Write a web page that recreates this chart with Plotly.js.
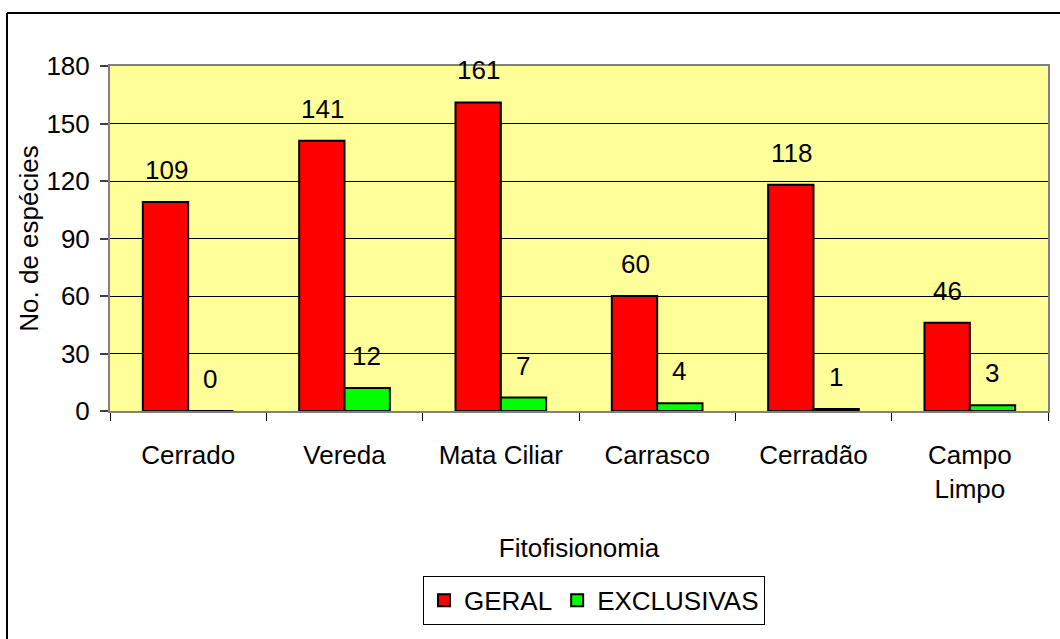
<!DOCTYPE html>
<html>
<head>
<meta charset="utf-8">
<script src="https://cdn.plot.ly/plotly-3.0.1.min.js"></script>
<style>
  html, body { margin: 0; padding: 0; background: #ffffff; }
  #chart { width: 1060px; height: 639px; }
</style>
</head>
<body>
<div id="chart"></div>
<script>
const categories = ["Cerrado", "Vereda", "Mata Ciliar", "Carrasco", "Cerradão", "Campo<br>Limpo"];
const geral = [109, 141, 161, 60, 118, 46];
const exclusivas = [0, 12, 7, 4, 1, 3];
const yTicks = [0, 30, 60, 90, 120, 150, 180];

const FONT = "Liberation Sans, Arial, sans-serif";
const FS = 26;

const traces = [
  {
    type: "bar", name: "GERAL", x: categories, y: geral,
    marker: { color: "#FF0000", line: { color: "#000000", width: 2 } },
    hoverinfo: "skip"
  },
  {
    type: "bar", name: "EXCLUSIVAS", x: categories, y: exclusivas,
    marker: { color: "#00FF00", line: { color: "#000000", width: 2 } },
    hoverinfo: "skip"
  }
];

const annotations = [];
categories.forEach((c, i) => {
  annotations.push({ x: c, y: geral[i], xref: "x", yref: "y", text: String(geral[i]),
    showarrow: false, xshift: -22, yshift: 32, yanchor: "middle",
    font: { family: FONT, size: FS, color: "#000" } });
  annotations.push({ x: c, y: exclusivas[i], xref: "x", yref: "y", text: String(exclusivas[i]),
    showarrow: false, xshift: 22, yshift: 32, yanchor: "middle",
    font: { family: FONT, size: FS, color: "#000" } });
});

const layout = {
  width: 1060, height: 639,
  margin: { l: 110, r: 12, t: 66, b: 228 },
  paper_bgcolor: "#ffffff",
  plot_bgcolor: "#FFFF99",
  font: { family: FONT, size: FS, color: "#000" },
  barmode: "group",
  bargap: 0.42,
  bargroupgap: 0,
  showlegend: true,
  legend: {
    orientation: "h", x: 0.516, xanchor: "center", y: -0.478, yanchor: "top",
    bordercolor: "#000000", borderwidth: 1, bgcolor: "#ffffff",
    itemwidth: 30,
    font: { family: FONT, size: FS, color: "#000" }
  },
  xaxis: {
    type: "category",
    tickson: "boundaries",
    ticks: "outside", ticklen: 8, tickcolor: "#000", tickwidth: 1,
    ticklabelstandoff: 20,
    showline: true, linecolor: "#808080", linewidth: 2, mirror: true,
    showgrid: false, zeroline: false,
    tickfont: { family: FONT, size: FS, color: "#000" },
    title: { text: "Fitofisionomia", font: { family: FONT, size: FS, color: "#000" }, standoff: 36 },
    automargin: false
  },
  yaxis: {
    range: [0, 180],
    tickvals: yTicks, ticktext: yTicks.map(String),
    ticks: "outside", ticklen: 8, tickcolor: "#404040", tickwidth: 2,
    ticklabelstandoff: 5,
    showline: true, linecolor: "#808080", linewidth: 2, mirror: true,
    showgrid: true, gridcolor: "#000000", gridwidth: 1,
    zeroline: false,
    tickfont: { family: FONT, size: FS, color: "#000" },
    title: { text: "No. de espécies", font: { family: FONT, size: FS, color: "#000" }, standoff: 0 },
    automargin: false
  },
  annotations: annotations,
  shapes: [
    { type: "line", xref: "paper", yref: "paper", x0: -0.1098, x1: 1.2, y0: 1.1536, y1: 1.1536,
      line: { color: "#000000", width: 2 } },
    { type: "line", xref: "paper", yref: "paper", x0: -0.1098, x1: -0.1098, y0: -1.0, y1: 1.1536,
      line: { color: "#000000", width: 2 } }
  ]
};

Plotly.newPlot("chart", traces, layout, { staticPlot: true, displayModeBar: false });
</script>
</body>
</html>
